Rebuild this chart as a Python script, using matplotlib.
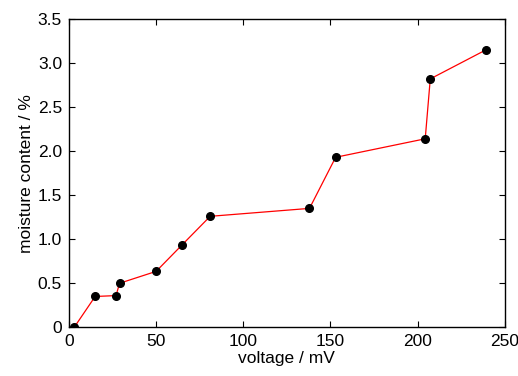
import matplotlib
matplotlib.use("Agg")
import matplotlib.pyplot as plt

# data
voltage = [3, 15, 27, 29, 50, 64.6, 81, 138, 153, 204.4, 207.3, 239.3]
moisture = [0, 0.35, 0.36, 0.5, 0.635, 0.93, 1.26, 1.35, 1.93, 2.14, 2.82, 3.15]

xticks = [0, 50, 100, 150, 200, 250]
yticks = [0, 0.5, 1.0, 1.5, 2.0, 2.5, 3.0, 3.5]
ytick_labels = ["0", "0.5", "1.0", "1.5", "2.0", "2.5", "3.0", "3.5"]

plt.rcParams['font.family'] = ['Liberation Sans Narrow', 'Liberation Sans', 'DejaVu Sans']

fig = plt.figure(figsize=(5.18, 3.76), dpi=100)
ax = fig.add_axes([0.1332, 0.1295, 0.8411, 0.82])

ax.plot(voltage, moisture, '-', color='red', lw=0.9, zorder=2)
ax.plot(voltage, moisture, 'o', color='black', ms=5.5, zorder=3)

ax.set_xlim(0, 250)
ax.set_ylim(0, 3.5)
ax.set_xticks(xticks)
ax.set_yticks(yticks)
ax.set_yticklabels(ytick_labels)
ax.tick_params(direction='in', top=True, right=True, length=4, width=0.8,
               labelsize=12.5, pad=5)
ax.tick_params(axis='y', labelright=False)
for s in ax.spines.values():
    s.set_linewidth(1.0)

ax.set_xlabel("voltage / mV", fontsize=12.5, labelpad=1)
ax.set_ylabel("moisture content / %", fontsize=12.5, labelpad=3)

fig.savefig("out.png", dpi=100)
